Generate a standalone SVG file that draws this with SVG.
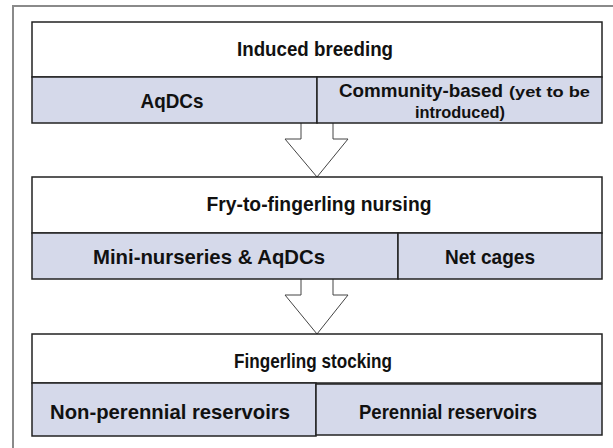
<svg xmlns="http://www.w3.org/2000/svg" width="613" height="448" viewBox="0 0 613 448">
<style>
.frame{fill:none;stroke:#8a8a8a;stroke-width:2}
.white{fill:#ffffff;stroke:#222;stroke-width:1.5}
.blue{fill:#d5d9ea;stroke:#222;stroke-width:1.5}
.arrow{fill:#ffffff;stroke:#444;stroke-width:1}
text{font-family:"Liberation Sans",Arial,sans-serif;font-weight:bold;fill:#111;text-anchor:middle}
.h{font-size:21px}
.l{font-size:21px}
.s{font-size:15px}
.st{text-anchor:start}
</style>
<rect x="0" y="0" width="613" height="448" fill="#ffffff"/>
<path class="frame" d="M13 448 V6 H613"/>
<g id="connectors">
<path class="arrow" d="M301 123 V139 H285 L317 177 L348 139 H333 V123"/>
<path class="arrow" d="M301 279 V295 H285 L317 334 L348 295 H333 V279"/>
</g>
<g id="induced-breeding">
<rect class="white" x="32" y="22" width="570" height="55"/>
<text class="h" x="315" y="56" textLength="156" lengthAdjust="spacingAndGlyphs">Induced breeding</text>
</g>
<g id="aqdcs">
<rect class="blue" x="32" y="77" width="285" height="46"/>
<text class="l" x="172" y="108" textLength="63" lengthAdjust="spacingAndGlyphs">AqDCs</text>
</g>
<g id="community-based">
<rect class="blue" x="317" y="77" width="285" height="46"/>
<text class="st" x="339" y="97" style="font-size:18.5px" textLength="164" lengthAdjust="spacingAndGlyphs">Community-based</text>
<text class="s st" x="509" y="97" textLength="81" lengthAdjust="spacingAndGlyphs">(yet to be</text>
<text class="s" x="460" y="118" textLength="90" lengthAdjust="spacingAndGlyphs" style="font-size:17px">introduced)</text>
</g>
<g id="fry-to-fingerling-nursing">
<rect class="white" x="32" y="177" width="570" height="56"/>
<text class="h" x="319" y="211" textLength="225" lengthAdjust="spacingAndGlyphs">Fry-to-fingerling nursing</text>
</g>
<g id="mini-nurseries">
<rect class="blue" x="32" y="233" width="366" height="46"/>
<text class="l" x="209" y="264" textLength="232" lengthAdjust="spacingAndGlyphs">Mini-nurseries &amp; AqDCs</text>
</g>
<g id="net-cages">
<rect class="blue" x="398" y="233" width="204" height="46"/>
<text class="l" x="490" y="264" textLength="90" lengthAdjust="spacingAndGlyphs">Net cages</text>
</g>
<g id="fingerling-stocking">
<rect class="white" x="32" y="334" width="570" height="49"/>
<text class="h" x="313" y="368" textLength="158" lengthAdjust="spacingAndGlyphs">Fingerling stocking</text>
</g>
<g id="non-perennial">
<rect class="blue" x="32" y="383" width="284" height="53"/>
<text class="l" x="170" y="419" textLength="240" lengthAdjust="spacingAndGlyphs">Non-perennial reservoirs</text>
</g>
<g id="perennial">
<rect class="blue" x="316" y="384" width="286" height="51"/>
<text class="l" x="448" y="419" textLength="178" lengthAdjust="spacingAndGlyphs">Perennial reservoirs</text>
</g>
</svg>
